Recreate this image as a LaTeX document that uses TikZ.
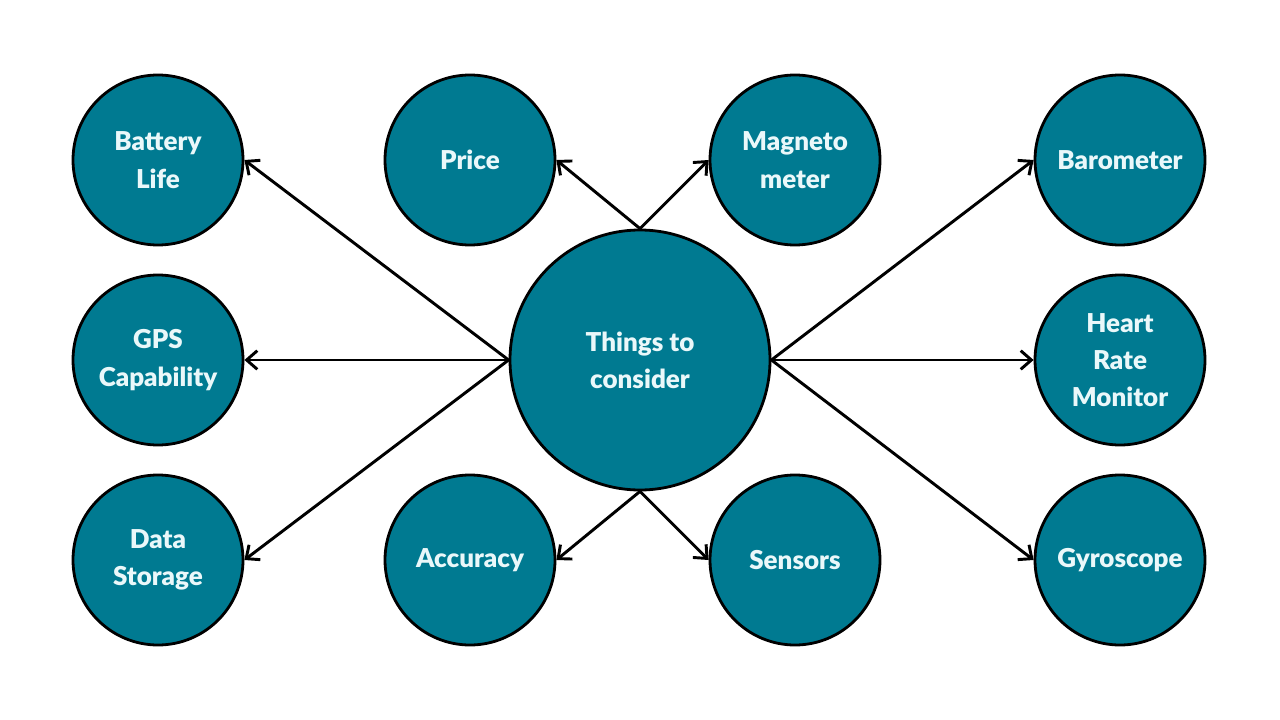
\documentclass[tikz,border=0pt]{standalone}
\usepackage{fontspec}
\setmainfont{Lato}[BoldFont=Lato Black]
\usetikzlibrary{arrows.meta}
\definecolor{teal}{HTML}{007A91}
\definecolor{txt}{HTML}{EAF8FA}
\tikzset{
  bub/.style={circle,draw=black,line width=2.1pt,fill=teal,minimum size=127.5pt,inner sep=0pt,
    text=txt,font=\fontsize{19.5}{28}\selectfont\bfseries,align=center},
  hub/.style={bub,minimum size=195pt},
  conn/.style={draw=black,line width=2.2pt,-{Straight Barb[length=8pt,width=14pt,line width=2.2pt]}}
}
\begin{document}
\begin{tikzpicture}[x=0.75pt,y=-0.75pt]
\useasboundingbox (0,0) rectangle (1280,720);
\node[hub] (c) at (640,360) {Things to\\consider};
\node[bub] (bat) at (158,160) {Battery\\Life};
\node[bub] (gps) at (158,360) {GPS\\Capability};
\node[bub] (data) at (158,560) {Data\\Storage};
\node[bub] (price) at (470,160) {Price};
\node[bub] (mag) at (795,160) {Magneto\\meter};
\node[bub] (acc) at (470,560) {Accuracy};
\node[bub] (sen) at (795,560) {Sensors};
\node[bub] (bar) at (1120,160) {Barometer};
\node[bub] (hr) at (1120,360) {Heart\\Rate\\Monitor};
\node[bub] (gyr) at (1120,560) {Gyroscope};
\draw[conn] (c.west) -- (bat.east);
\draw[conn] (c.west) -- (gps.east);
\draw[conn] (c.west) -- (data.east);
\draw[conn] (c.north) -- (price.east);
\draw[conn] (c.north) -- (mag.west);
\draw[conn] (c.south) -- (acc.east);
\draw[conn] (c.south) -- (sen.west);
\draw[conn] (c.east) -- (bar.west);
\draw[conn] (c.east) -- (hr.west);
\draw[conn] (c.east) -- (gyr.west);
\end{tikzpicture}
\end{document}
